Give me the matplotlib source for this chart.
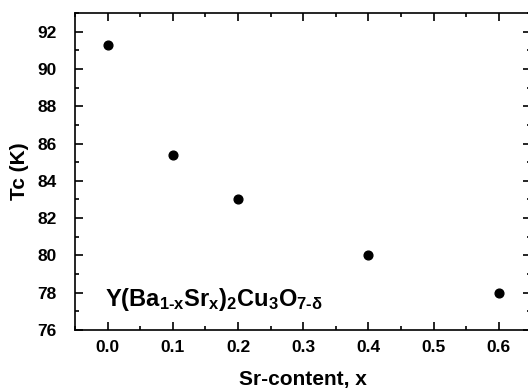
import matplotlib
matplotlib.use("Agg")
import matplotlib.pyplot as plt
from matplotlib.ticker import MultipleLocator

sr_content = [0.0, 0.1, 0.2, 0.4, 0.6]
tc_values = [91.3, 85.4, 83.0, 80.0, 78.0]

plt.rcParams["font.family"] = ["Liberation Sans", "DejaVu Sans"]
plt.rcParams["font.weight"] = "bold"
plt.rcParams["mathtext.fontset"] = "custom"
plt.rcParams["mathtext.rm"] = "Liberation Sans:bold"
plt.rcParams["mathtext.it"] = "Liberation Sans:bold"
plt.rcParams["mathtext.bf"] = "Liberation Sans:bold"

fig = plt.figure(figsize=(5.28, 3.88), dpi=100)
ax = fig.add_axes([0.142, 0.1495, 0.8646, 0.817])

ax.plot(sr_content, tc_values, "o", color="black", markersize=6.3)

ax.set_xlim(-0.05, 0.65)
ax.set_ylim(76, 93)
ax.xaxis.set_major_locator(MultipleLocator(0.1))
ax.xaxis.set_minor_locator(MultipleLocator(0.05))
ax.yaxis.set_major_locator(MultipleLocator(2))
ax.yaxis.set_minor_locator(MultipleLocator(1))
ax.xaxis.set_major_formatter(plt.FormatStrFormatter("%.1f"))
ax.tick_params(which="both", direction="in", top=True, right=True, width=1.2)
ax.tick_params(which="major", length=6, labelsize=12.5)
ax.tick_params(axis="x", which="major", pad=7)
ax.tick_params(axis="y", which="major", pad=13)
ax.tick_params(which="minor", length=3)
for lbl in ax.get_xticklabels() + ax.get_yticklabels():
    lbl.set_fontweight("bold")
for sp in ax.spines.values():
    sp.set_linewidth(1.2)

ax.set_xlabel("Sr-content, x", fontsize=15, fontweight="bold", labelpad=11)
ax.set_ylabel("Tc (K)", fontsize=15, fontweight="bold", labelpad=6)

ax.text(-0.004, 77.3, r"$\mathregular{Y(Ba_{1\text{-}x}Sr_x)_2Cu_3O_{7\text{-}\delta}}$",
        fontsize=17, fontweight="bold", ha="left", va="baseline")

fig.savefig("out.png", dpi=100)
